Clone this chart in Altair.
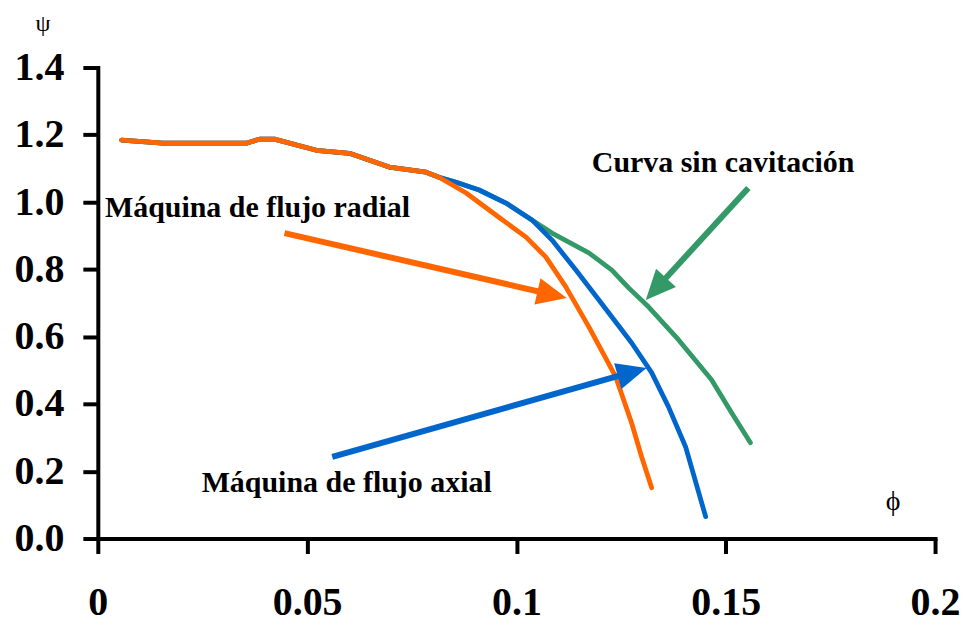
import math
import altair as alt
import pandas as pd

# ---- data ----
common_phi = [0.0057, 0.0155, 0.0355, 0.0386, 0.0422, 0.0522, 0.0601, 0.0696, 0.0784, 0.0815]
common_psi = [1.184, 1.175, 1.175, 1.187, 1.187, 1.154, 1.145, 1.104, 1.089, 1.074]

radial_phi = [0.0880, 0.0958, 0.1023, 0.1070, 0.1118, 0.1173, 0.1237, 0.1275, 0.1299, 0.1323]
radial_psi = [1.027, 0.955, 0.896, 0.837, 0.748, 0.629, 0.481, 0.344, 0.243, 0.151]

axial_phi = [0.0856, 0.0911, 0.0975, 0.1037, 0.1085, 0.1142, 0.1197, 0.1275, 0.1323, 0.1363, 0.1404, 0.1452]
axial_psi = [1.059, 1.036, 0.997, 0.947, 0.887, 0.798, 0.709, 0.582, 0.493, 0.392, 0.273, 0.065]

nocav_phi = [0.0856, 0.0911, 0.0975, 0.1037, 0.1085, 0.1173, 0.1228, 0.1268, 0.1316, 0.1387, 0.1466, 0.1514, 0.1559]
nocav_psi = [1.059, 1.036, 0.997, 0.947, 0.908, 0.849, 0.798, 0.745, 0.688, 0.591, 0.472, 0.374, 0.285]

series_names = ["Curva sin cavitación", "Máquina de flujo axial", "Máquina de flujo radial"]
series_colors = ["#339966", "#0066CC", "#FF6600"]

# annotation labels (text, phi, psi)
label_text = ["Máquina de flujo radial", "Curva sin cavitación", "Máquina de flujo axial"]
label_phi = [0.0017, 0.1180, 0.0248]
label_psi = [0.982, 1.115, 0.166]

# arrows (start -> tip)
arrow_series = ["Máquina de flujo radial", "Máquina de flujo axial", "Curva sin cavitación"]
arrow_phi0 = [0.0446, 0.0560, 0.1554]
arrow_psi0 = [0.908, 0.243, 1.042]
arrow_phi1 = [0.1120, 0.1311, 0.1309]
arrow_psi1 = [0.715, 0.507, 0.709]

# axis symbols
sym_text = ["ψ", "ϕ"]
sym_phi = [-0.0131, 0.190]
sym_psi = [1.530, 0.110]
sym_size = [24, 28]

# ---- layout ----
W, H = 839, 472
XMAX, YMAX = 0.2, 1.4
SX, SY = W / XMAX, H / YMAX

rows = []
for name, px, py in [
    (series_names[0], common_phi + nocav_phi, common_psi + nocav_psi),
    (series_names[1], common_phi + axial_phi, common_psi + axial_psi),
    (series_names[2], common_phi + radial_phi, common_psi + radial_psi),
]:
    for i, (a, b) in enumerate(zip(px, py)):
        rows.append({"serie": name, "i": i, "phi": a, "psi": b})
curves = pd.DataFrame(rows)

arows = []
for s, x0, y0, x1, y1 in zip(arrow_series, arrow_phi0, arrow_psi0, arrow_phi1, arrow_psi1):
    dx = (x1 - x0) * SX
    dy = -(y1 - y0) * SY
    L = math.hypot(dx, dy)
    ang = math.degrees(math.atan2(dx, -dy)) % 360
    f = 20.0 / L
    arows.append({"serie": s, "x0": x0, "y0": y0,
                  "xe": x1 - (x1 - x0) * f, "ye": y1 - (y1 - y0) * f,
                  "x1": x1, "y1": y1, "ang": ang})
arrows = pd.DataFrame(arows)

labels = pd.DataFrame({"t": label_text, "phi": label_phi, "psi": label_psi})
syms = pd.DataFrame({"t": sym_text, "phi": sym_phi, "psi": sym_psi, "fs": sym_size})

xs = alt.Scale(domain=[0, XMAX], nice=False, zero=False)
ys = alt.Scale(domain=[0, YMAX], nice=False, zero=False)
color = alt.Color("serie:N", scale=alt.Scale(domain=series_names, range=series_colors), legend=None)

axis_common = dict(grid=False, domainColor="black", domainWidth=4, tickColor="black",
                   tickWidth=4, tickSize=15, labelFont="Liberation Serif", labelFontWeight="bold",
                   labelFontSize=40, labelColor="black", labelOverlap=False, labelFlush=False,
                   labelBound=False, title=None, domainCap="square")

lines = alt.Chart(curves).mark_line(strokeWidth=4.8, strokeCap="round", strokeJoin="round").encode(
    x=alt.X("phi:Q", scale=xs, axis=alt.Axis(values=[0, 0.05, 0.1, 0.15, 0.2], format="~g",
                                             labelPadding=29, **axis_common)),
    y=alt.Y("psi:Q", scale=ys, axis=alt.Axis(values=[0, 0.2, 0.4, 0.6, 0.8, 1.0, 1.2, 1.4],
                                             format=".1f", labelPadding=19, **axis_common)),
    color=color,
    order="i:Q",
)

shafts = alt.Chart(arrows).mark_rule(strokeWidth=6, strokeCap="butt").encode(
    x=alt.X("x0:Q", scale=xs), y=alt.Y("y0:Q", scale=ys),
    x2="xe:Q", y2="ye:Q", color=color,
)

heads = alt.Chart(arrows).mark_point(shape="M0,0L-0.45,1L0.45,1Z", size=3600, filled=True,
                                     opacity=1, strokeWidth=0).encode(
    x=alt.X("x1:Q", scale=xs), y=alt.Y("y1:Q", scale=ys),
    angle=alt.Angle("ang:Q", scale=None), color=color,
)

texts = alt.Chart(labels).mark_text(align="left", baseline="middle", font="Liberation Serif",
                                    fontWeight="bold", fontSize=30, color="black").encode(
    x=alt.X("phi:Q", scale=xs), y=alt.Y("psi:Q", scale=ys), text="t:N",
)

symbols = alt.Chart(syms).mark_text(align="center", baseline="middle", font="Liberation Serif",
                                    color="black").encode(
    x=alt.X("phi:Q", scale=xs), y=alt.Y("psi:Q", scale=ys), text="t:N",
    size=alt.Size("fs:Q", scale=None, legend=None),
)

chart = alt.layer(lines, shafts, heads, texts, symbols).properties(
    width=W, height=H, autosize=alt.AutoSizeParams(type="none"),
    padding={"left": 90, "top": 59, "right": 25, "bottom": 88},
    background="white",
).configure_view(stroke=None)

chart.save("out.html", embed_options={"renderer": "svg", "actions": False})
